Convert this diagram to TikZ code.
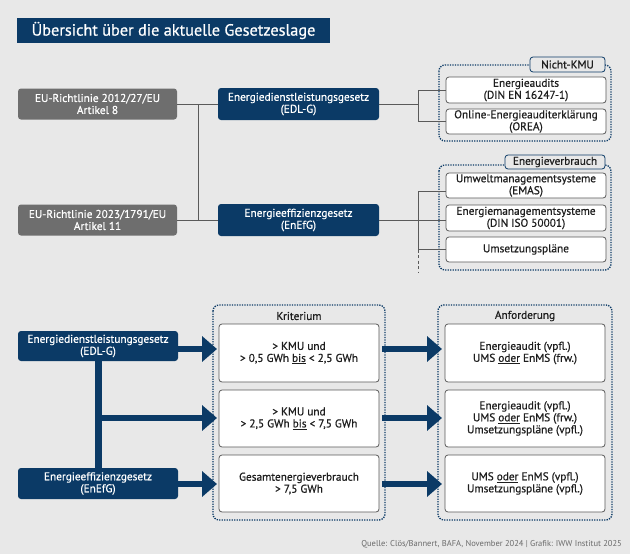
\documentclass[tikz,border=0pt]{standalone}
\usepackage{fontspec}
\setmainfont{PT Sans}[BoldFont=PT Sans, BoldFeatures={FakeBold=0.7}]
\usetikzlibrary{arrows.meta}
\definecolor{bg}{HTML}{E8E8E8}
\definecolor{navy}{HTML}{0B3A66}
\definecolor{gboxc}{HTML}{6E6E6E}
\definecolor{lin}{HTML}{5A5A5A}
\definecolor{txt}{HTML}{1E1E1E}
\definecolor{src}{HTML}{6A6A6A}
\begin{document}
\begin{tikzpicture}[x=1pt,y=-1pt,
  base/.style={inner sep=0pt, align=center, font=\fontsize{11.3}{12}\selectfont\bfseries},
  bluebox/.style={base, fill=navy, text=white, rounded corners=3pt},
  graybox/.style={base, fill=gboxc, text=white, rounded corners=3pt},
  wbox/.style={base, fill=white, draw=lin, line width=0.8pt, rounded corners=3pt, text=txt},
  frame/.style={draw=navy, line width=1.35pt, dash pattern=on 1.3pt off 1.2pt, rounded corners=6pt},
  tag/.style={base, fill=bg, draw=navy, line width=0.8pt, rounded corners=3pt, text=txt},
  conn/.style={draw=lin, line width=0.9pt},
  bigarrow/.style={draw=navy, line width=6.5pt, -{Triangle[length=15pt,width=25pt]}, fill=navy},
  coltitle/.style={base, text=txt}
]
\fill[bg] (0,0) rectangle (630,554);
\useasboundingbox (0,0) rectangle (630,554);

% title
\node[fill=navy, text=white, minimum width=313pt, minimum height=25pt, inner sep=0pt,
      font=\fontsize{16.3}{20}\selectfont\bfseries] (title) at (173.5,30.5) {Übersicht über die aktuelle Gesetzeslage};

% ---------- top section ----------
\node[graybox, minimum width=159pt, minimum height=31pt] (g1) at (97.5,104) {EU-Richtlinie 2012/27/EU\\Artikel 8};
\node[graybox, minimum width=159pt, minimum height=31pt] (g2) at (97.5,220) {EU-Richtlinie 2023/1791/EU\\Artikel 11};
\node[bluebox, minimum width=161pt, minimum height=32pt] (b1) at (298.5,104) {Energiedienstleistungsgesetz\\(EDL-G)};
\node[bluebox, minimum width=161pt, minimum height=32pt] (b2) at (298.5,220) {Energieeffizienzgesetz\\(EnEfG)};

\coordinate (v1) at (198,104);
\coordinate (v2) at (198,220);
\draw[conn] (g1.east) -- (b1.west);
\draw[conn] (g2.east) -- (b2.west);
\draw[conn] (v1) -- (v2);

\coordinate (r1) at (418,104);
\coordinate (r2) at (418,220);
\coordinate (r3) at (418,191);
\coordinate (r4) at (418,249.5);
\coordinate (r5) at (418,272);

% frames
\draw[frame] (439,65) rectangle (611,141);
\draw[frame] (439,165) rectangle (611,270);

\node[wbox, minimum width=160pt, minimum height=26pt] (c1) at (526,90) {Energieaudits\\(DIN EN 16247-1)};
\node[wbox, minimum width=160pt, minimum height=25pt] (c2) at (526,121.5) {Online-Energieauditerklärung\\(OREA)};
\node[wbox, minimum width=160pt, minimum height=25pt] (c3) at (526,185.5) {Umweltmanagementsysteme\\(EMAS)};
\node[wbox, minimum width=160pt, minimum height=26pt] (c4) at (526,218) {Energiemanagementsysteme\\(DIN ISO 50001)};
\node[wbox, minimum width=160pt, minimum height=25pt] (c5) at (526,249.5) {Umsetzungspläne};

\draw[conn] (b1.east) -- (r1);
\draw[conn] (c1.west) -| (r1);
\draw[conn] (c2.west) -| (r1);
\draw[conn] (b2.east) -- (b2.east -| c4.west);
\draw[conn] (r3 -| c3.west) -- (r3) -- (r4) -- (c5.west);
\draw[conn, dash pattern=on 3pt off 2.5pt] (r4) -- (r5);

\node[tag, minimum width=75pt, minimum height=15pt] (l1) at (567.5,64.5) {Nicht-KMU};
\node[tag, minimum width=100pt, minimum height=14pt] (l2) at (555,162) {Energieverbrauch};

% ---------- bottom section ----------
\draw[frame] (213,305) rectangle (385,520);
\draw[frame] (438,305) rectangle (612,520);
\node[coltitle] (kt) at (299,316) {Kriterium};
\node[coltitle] (at) at (525,316) {Anforderung};

\node[bluebox, minimum width=160pt, minimum height=30pt] (B1) at (98,346) {Energiedienstleistungsgesetz\\(EDL-G)};
\node[bluebox, minimum width=160pt, minimum height=31pt] (B2) at (98,483.5) {Energieeffizienzgesetz\\(EnEfG)};
\draw[navy, line width=7pt] (B1.south) -- (B2.north);

\node[wbox, minimum width=160pt, minimum height=58pt] (k1) at (299,353) {> KMU und\\> 0,5 GWh \underline{bis} < 2,5 GWh};
\node[wbox, minimum width=160pt, minimum height=57pt] (k2) at (299,418.5) {> KMU und\\> 2,5 GWh \underline{bis} < 7,5 GWh};
\node[wbox, minimum width=160pt, minimum height=57pt] (k3) at (299,483.5) {Gesamtenergieverbrauch\\> 7,5 GWh};

\node[wbox, minimum width=160pt, minimum height=58pt] (q1) at (525,353) {Energieaudit (vpfl.)\\UMS \underline{oder} EnMS (frw.)};
\node[wbox, minimum width=160pt, minimum height=57pt] (q2) at (525,418.5) {Energieaudit (vpfl.)\\UMS \underline{oder} EnMS (frw.)\\Umsetzungspläne (vpfl.)};
\node[wbox, minimum width=160pt, minimum height=57pt] (q3) at (525,483.5) {UMS \underline{oder} EnMS (vpfl.)\\Umsetzungspläne (vpfl.)};

\coordinate (a1) at (217,349);
\coordinate (a2) at (217,418);
\coordinate (a3) at (217,484);
\coordinate (m2) at (96,418);
\draw[bigarrow] (a1 -| B1.east) -- (a1);
\draw[bigarrow] (m2) -- (a2);
\draw[bigarrow] (a3 -| B2.east) -- (a3);

\coordinate (e1) at (442,349);
\coordinate (e2) at (442,418);
\coordinate (e3) at (442,484);
\draw[bigarrow] ([xshift=3pt]e1 -| k1.east) -- (e1);
\draw[bigarrow] ([xshift=3pt]e2 -| k2.east) -- (e2);
\draw[bigarrow] ([xshift=3pt]e3 -| k3.east) -- (e3);

\node[anchor=base east, inner sep=0pt, text=src, font=\fontsize{8.5}{10}\selectfont] (source) at (622,546)
  {Quelle: Clös/Bannert, BAFA, November 2024 | Grafik: IWW Institut 2025};
\end{tikzpicture}
\end{document}
